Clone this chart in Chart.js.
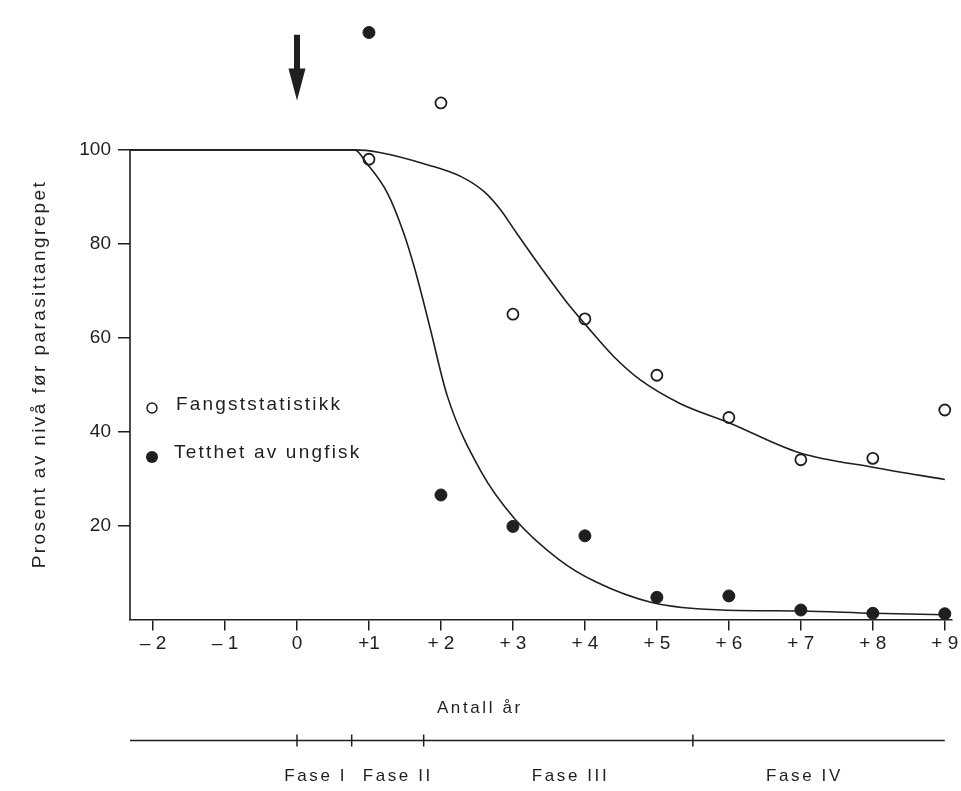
<!DOCTYPE html>
<html>
<head>
<meta charset="utf-8">
<script src="https://cdn.jsdelivr.net/npm/chart.js@4/dist/chart.umd.min.js"></script>
<style>
html,body{margin:0;padding:0;background:#ffffff;}
#wrap{width:961px;height:791px;position:relative;}
</style>
</head>
<body>
<div id="wrap"><canvas id="c" width="961" height="791"></canvas></div>
<script>
// ---- data ----
const years = [1, 2, 3, 4, 5, 6, 7, 8, 9];
const fangststatistikk = [98, 110, 65, 64, 52, 43, 34, 34.3, 44.6];
const tetthetAvUngfisk = [125, 26.5, 19.8, 17.8, 4.7, 5.0, 2.0, 1.3, 1.2];

const fangstCurveX = [-2.32, 0.8, 1.13, 1.82, 2.28, 2.6, 2.83, 3.05, 3.41, 3.77, 4.04, 4.4, 4.77, 5.32, 6.0, 6.98, 8.04, 9.0];
const fangstCurveY = [100, 100, 99.5, 96.8, 94.3, 91.1, 87.2, 82.3, 74.5, 67.1, 62.2, 56.0, 51.0, 46.0, 41.9, 35.5, 32.3, 29.8];

const tetthetCurveX = [-2.32, 0.8, 0.97, 1.26, 1.48, 1.63, 1.76, 1.85, 2.09, 2.56, 3.02, 3.64, 4.15, 4.93, 5.9, 7.0, 8.0, 9.0];
const tetthetCurveY = [100, 100, 97.1, 90.7, 82.4, 75.0, 67.5, 62.0, 47.5, 31.4, 21.5, 12.75, 8.0, 3.6, 2.0, 1.8, 1.3, 1.0];

const xTickValues = [-2, -1, 0, 1, 2, 3, 4, 5, 6, 7, 8, 9];
const xTickLabels = ['\u2013 2', '\u2013 1', '0', '+1', '+ 2', '+ 3', '+ 4', '+ 5', '+ 6', '+ 7', '+ 8', '+ 9'];
const yTickValues = [20, 40, 60, 80, 100];

const seriesNames = ['Fangststatistikk', 'Tetthet av ungfisk'];
const yTitle = 'Prosent av nivå før parasittangrepet';
const xTitle = 'Antall år';

const phaseNames = ['Fase I', 'Fase II', 'Fase III', 'Fase IV'];
const phaseLabelYears = [0.26, 1.4, 3.8, 7.05];
const phaseBoundaries = [0, 0.76, 1.76, 5.5];
const phaseLineRange = [-2.32, 9.0];
const xTitleYear = 2.54;

const arrowYear = 0;
const arrowFrom = 124.5;
const arrowTo = 110.5;

// ---- styling ----
const INK = '#1f1f1f';
const FONT = "'Liberation Sans', Arial, Helvetica, sans-serif";

const pts = (xs, ys) => xs.map((x, i) => ({ x: x, y: ys[i] }));

const annotations = {
  id: 'annotations',
  afterDraw(chart) {
    const ctx = chart.ctx;
    const xs = chart.scales.x, ys = chart.scales.y;
    const area = chart.chartArea;
    ctx.save();
    ctx.fillStyle = INK;
    ctx.strokeStyle = INK;

    // left axis line from 0 to 100
    ctx.lineWidth = 1.6;
    ctx.beginPath();
    ctx.moveTo(area.left, ys.getPixelForValue(0));
    ctx.lineTo(area.left, ys.getPixelForValue(100));
    ctx.stroke();

    // arrow
    const ax = xs.getPixelForValue(arrowYear);
    const aTop = ys.getPixelForValue(arrowFrom);
    const aTip = ys.getPixelForValue(arrowTo);
    const headLen = 32, headHalf = 8.5, shaftHalf = 3;
    ctx.beginPath();
    ctx.moveTo(ax - shaftHalf, aTop);
    ctx.lineTo(ax + shaftHalf, aTop);
    ctx.lineTo(ax + shaftHalf, aTip - headLen);
    ctx.lineTo(ax + headHalf, aTip - headLen);
    ctx.lineTo(ax, aTip);
    ctx.lineTo(ax - headHalf, aTip - headLen);
    ctx.lineTo(ax - shaftHalf, aTip - headLen);
    ctx.closePath();
    ctx.fill();

    // legend inside the plot
    ctx.font = '19px ' + FONT;
    ctx.textBaseline = 'middle';
    ctx.textAlign = 'left';
    try { ctx.letterSpacing = '2.2px'; } catch (e) {}
    const lx = area.left + 22;
    ctx.beginPath();
    ctx.arc(lx, 408, 5, 0, Math.PI * 2);
    ctx.fillStyle = '#ffffff';
    ctx.fill();
    ctx.lineWidth = 1.5;
    ctx.stroke();
    ctx.fillStyle = INK;
    ctx.fillText(seriesNames[0], lx + 24, 405);
    ctx.beginPath();
    ctx.arc(lx, 457, 6, 0, Math.PI * 2);
    ctx.fill();
    ctx.fillText(seriesNames[1], lx + 22, 453);

    // y title
    ctx.save();
    ctx.translate(40, 374);
    ctx.rotate(-Math.PI / 2);
    ctx.textAlign = 'center';
    try { ctx.letterSpacing = '2.4px'; } catch (e) {}
    ctx.font = '19px ' + FONT;
    ctx.fillText(yTitle, 0, 0);
    ctx.restore();

    // x title
    try { ctx.letterSpacing = '2.6px'; } catch (e) {}
    ctx.font = '17px ' + FONT;
    ctx.textAlign = 'center';
    const bottom = area.bottom;
    ctx.fillText(xTitle, xs.getPixelForValue(xTitleYear), bottom + 89);

    // phase line
    const py = bottom + 121;
    ctx.lineWidth = 1.5;
    ctx.beginPath();
    ctx.moveTo(xs.getPixelForValue(phaseLineRange[0]), py);
    ctx.lineTo(xs.getPixelForValue(phaseLineRange[1]), py);
    phaseBoundaries.forEach(b => {
      const bx = xs.getPixelForValue(b);
      ctx.moveTo(bx, py - 6);
      ctx.lineTo(bx, py + 6);
    });
    ctx.stroke();
    phaseNames.forEach((n, i) => {
      ctx.fillText(n, xs.getPixelForValue(phaseLabelYears[i]), bottom + 157);
    });
    ctx.restore();
  }
};

new Chart(document.getElementById('c').getContext('2d'), {
  type: 'scatter',
  data: {
    datasets: [
      { label: 'curve-' + seriesNames[0], data: pts(fangstCurveX, fangstCurveY), showLine: true,
        pointRadius: 0, borderColor: INK, borderWidth: 1.6, cubicInterpolationMode: 'monotone', fill: false },
      { label: 'curve-' + seriesNames[1], data: pts(tetthetCurveX, tetthetCurveY), showLine: true,
        pointRadius: 0, borderColor: INK, borderWidth: 1.6, cubicInterpolationMode: 'monotone', fill: false },
      { label: seriesNames[0], data: pts(years, fangststatistikk), showLine: false,
        pointRadius: 5.5, pointBackgroundColor: '#ffffff', pointBorderColor: INK, pointBorderWidth: 1.8 },
      { label: seriesNames[1], data: pts(years, tetthetAvUngfisk), showLine: false,
        pointRadius: 6, pointBackgroundColor: INK, pointBorderColor: INK, pointBorderWidth: 1 }
    ]
  },
  options: {
    responsive: false,
    animation: false,
    devicePixelRatio: 1,
    layout: { padding: { top: 5, right: 9, left: 0, bottom: 0 } },
    plugins: { legend: { display: false }, tooltip: { enabled: false } },
    scales: {
      x: {
        type: 'linear', min: -2.32, max: 9.1,
        afterBuildTicks: s => { s.ticks = xTickValues.map(v => ({ value: v })); },
        afterFit: s => { s.height = 171.6; },
        grid: { display: true, drawOnChartArea: false, drawTicks: true, tickLength: 11, color: INK, lineWidth: 1.5 },
        border: { display: true, color: INK, width: 1.6 },
        ticks: {
          autoSkip: false, maxRotation: 0, padding: 2, color: INK,
          font: { family: FONT, size: 19 },
          callback: v => { const i = xTickValues.indexOf(v); return i >= 0 ? xTickLabels[i] : ''; }
        }
      },
      y: {
        type: 'linear', min: 0, max: 128,
        afterBuildTicks: s => { s.ticks = yTickValues.map(v => ({ value: v })); },
        afterFit: s => { s.width = 130; },
        grid: { display: true, drawOnChartArea: false, drawTicks: true, tickLength: 12, color: INK, lineWidth: 1.5 },
        border: { display: false },
        ticks: { padding: 7, color: INK, font: { family: FONT, size: 19 } }
      }
    }
  },
  plugins: [annotations]
});
</script>
</body>
</html>
